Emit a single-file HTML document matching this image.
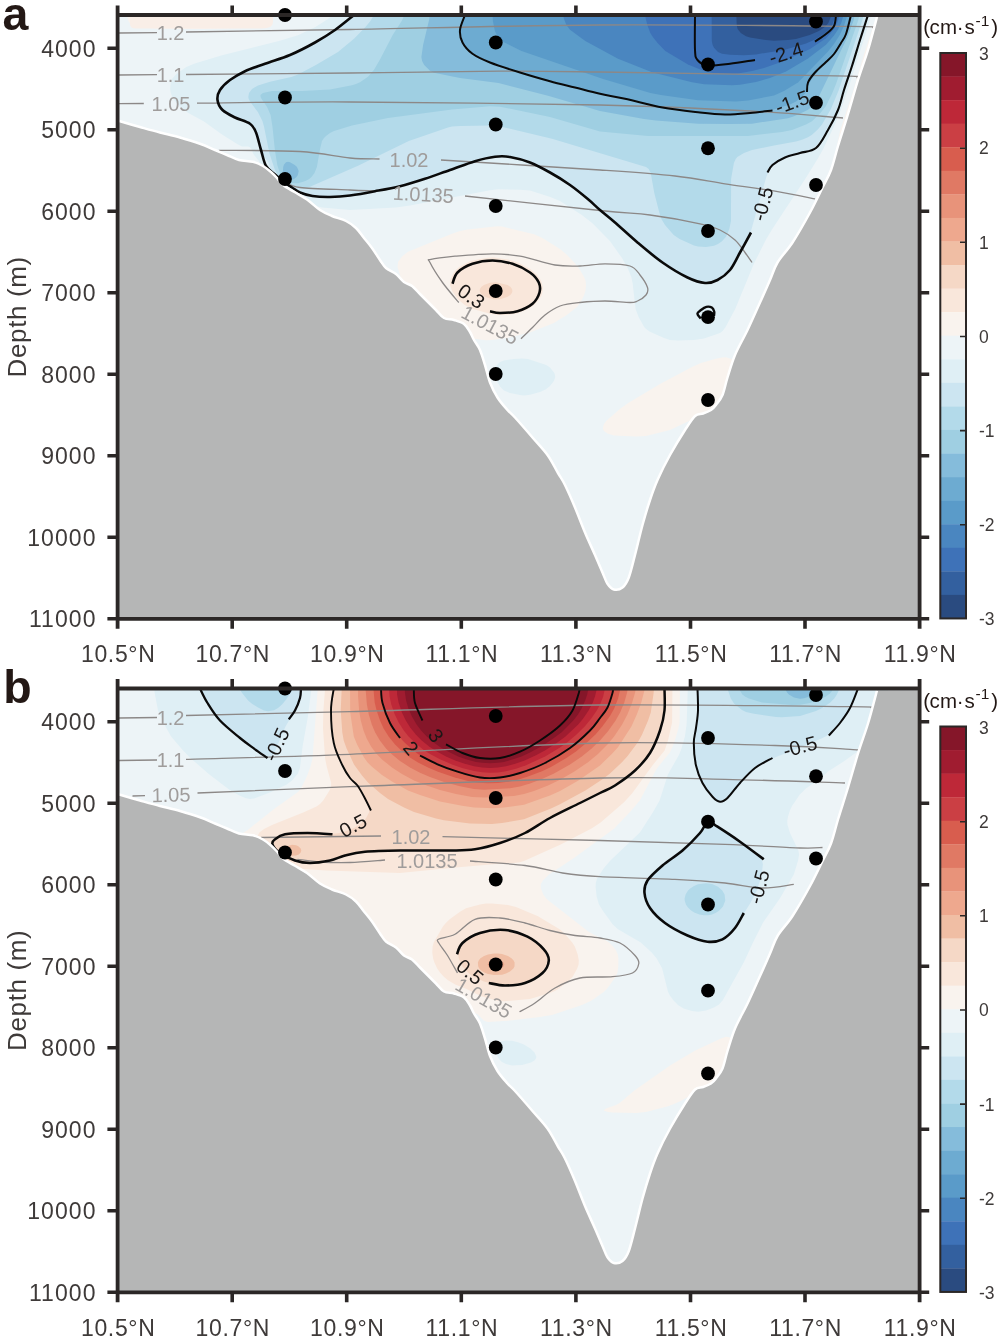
<!DOCTYPE html>
<html lang="en"><head><meta charset="utf-8"><title>Figure</title>
<style>html,body{margin:0;padding:0;background:#fff}svg{display:block}text{font-family:'Liberation Sans', Arial, Helvetica, sans-serif}</style></head><body>
<svg width="1000" height="1342" viewBox="0 0 1000 1342">
<defs><clipPath id="plotclip"><rect x="117.6" y="15.0" width="802.0" height="603.8"/></clipPath></defs>
<rect width="1000" height="1342" fill="#fff"/>
<g transform="translate(0,0)">
<g clip-path="url(#plotclip)">
<rect x="117.6" y="15.0" width="802.0" height="603.8" fill="#EDF4F7"/>
<path d="M128.0 9.0L274.4 9.0L272.9 17.0L271.1 21.0L266.0 24.8L260.4 27.0L244.0 28.1L200.0 29.0L156.0 28.5L142.0 27.6L136.0 26.5L132.0 24.8L129.8 23.0L128.4 21.0L127.3 17.0L126.5 9.0L128.0 9.0ZM880.0 9.7L880.4 9.0L924.0 9.0L924.0 213.9L922.0 211.6L913.8 199.0L909.9 195.0L904.0 191.1L896.0 188.7L878.0 186.5L870.0 184.8L860.0 181.6L854.0 178.6L849.6 175.0L845.1 169.0L841.1 161.0L838.4 153.0L837.7 149.0L837.6 143.0L840.0 131.0L853.2 91.0L864.0 54.3L876.0 17.8L880.0 9.7ZM220.0 179.0L230.0 179.3L240.0 181.2L263.8 191.0L270.0 194.6L281.9 205.0L288.4 213.0L291.8 219.0L293.8 225.0L293.7 229.0L292.7 231.0L290.6 233.0L288.0 234.3L280.0 236.3L268.0 237.2L256.0 236.5L242.0 233.5L230.0 229.5L220.3 225.0L210.8 219.0L203.8 213.0L197.6 205.0L195.1 199.0L194.8 193.0L196.0 189.1L197.3 187.0L202.1 183.0L210.0 180.1L220.0 179.0ZM490.0 227.0L498.0 226.3L502.0 226.6L534.0 234.3L542.0 237.8L560.0 248.9L566.0 253.9L574.8 263.0L579.4 269.0L584.1 277.0L585.6 281.0L586.0 285.0L585.4 291.0L584.0 295.5L580.1 303.0L577.1 307.0L566.8 315.0L553.9 323.0L530.0 332.4L508.0 337.7L492.0 340.0L486.0 340.3L476.0 338.9L472.0 339.0L458.0 342.4L452.0 343.2L446.0 342.8L440.3 341.0L436.0 338.5L432.0 334.9L427.3 329.0L423.7 323.0L415.4 305.0L400.6 277.0L397.5 267.0L398.0 262.0L402.0 256.5L408.0 251.8L452.0 233.8L460.0 231.0L466.0 229.7L490.0 227.0ZM716.0 358.8L722.0 357.5L726.0 357.2L732.0 359.2L736.0 361.8L739.3 365.0L742.0 369.0L744.2 375.0L744.9 379.0L744.9 385.0L742.7 395.0L740.9 399.0L738.0 403.6L735.0 407.0L730.0 411.1L724.0 414.1L718.0 415.8L712.0 416.1L704.0 415.2L700.0 415.7L670.0 429.9L646.0 435.9L636.0 436.5L614.0 435.5L608.0 433.8L603.9 431.0L603.0 429.0L603.0 427.0L604.0 424.1L606.2 421.0L619.9 409.0L628.2 403.0L660.0 383.9L692.0 367.0L700.9 363.0L716.0 358.8Z" fill="#F9F3EE" fill-rule="evenodd"/>
<path d="M900.0 9.8L900.8 9.0L924.0 9.0L924.0 170.5L884.0 157.8L872.0 152.5L866.0 148.3L861.1 143.0L857.7 137.0L856.0 131.0L855.7 121.0L858.0 107.0L869.4 63.0L876.0 42.9L882.0 27.9L886.0 21.2L890.0 17.0L900.0 9.8ZM480.0 258.9L488.0 257.7L494.0 257.5L508.0 259.5L518.0 262.6L530.2 269.0L537.2 275.0L540.1 279.0L541.9 283.0L542.7 287.0L542.7 291.0L541.6 295.0L539.4 299.0L534.2 305.0L528.0 309.1L518.0 313.2L508.0 314.8L498.0 315.0L490.0 313.8L472.0 308.7L464.7 305.0L457.6 299.0L452.1 291.0L449.9 285.0L450.5 279.0L454.0 272.1L456.8 269.0L460.0 266.5L470.0 261.3L480.0 258.9Z" fill="#F9E7DB" fill-rule="evenodd"/>
<path d="M924.0 22.9L924.0 137.0L914.0 135.0L902.0 131.4L894.0 128.0L888.0 124.1L883.0 119.0L880.0 113.8L878.0 107.0L877.4 99.0L878.4 85.0L881.9 67.0L886.0 54.3L892.0 42.0L897.5 35.0L904.0 30.0L914.0 25.5L924.0 22.9ZM490.0 282.8L496.0 282.2L507.6 285.0L510.6 287.0L512.0 289.0L512.4 291.0L511.9 293.0L510.3 295.0L507.2 297.0L500.0 299.2L494.0 299.5L485.5 297.0L482.2 295.0L480.5 293.0L479.7 291.0L479.9 289.0L481.2 287.0L483.9 285.0L490.0 282.8Z" fill="#F5D8C6" fill-rule="evenodd"/>
<path d="M336.0 9.0L872.7 9.0L868.4 25.0L848.8 87.0L840.4 111.0L834.6 125.0L823.2 149.0L818.0 158.2L806.0 177.7L772.0 229.5L766.0 239.6L754.2 263.0L735.2 309.0L725.6 327.0L722.7 331.0L720.0 333.0L704.0 338.4L694.0 340.0L678.0 340.5L670.0 339.9L664.0 338.1L650.0 331.7L646.1 329.0L644.2 327.0L638.6 317.0L635.6 309.0L632.6 283.0L631.3 277.0L628.1 269.0L622.0 258.1L609.9 241.0L592.2 223.0L581.8 215.0L560.0 200.9L550.3 197.0L530.0 190.6L520.0 189.8L498.0 189.3L490.0 190.3L410.0 205.5L396.0 207.5L350.0 210.1L322.0 207.4L312.0 205.3L304.0 202.1L295.9 197.0L284.0 191.0L280.0 188.0L272.0 180.1L264.0 174.0L261.3 171.0L260.3 169.0L259.7 163.0L258.9 161.0L254.1 155.0L252.9 153.0L251.5 149.0L250.0 147.3L248.0 146.5L242.0 146.4L238.0 144.5L222.0 134.4L204.0 121.4L188.0 112.7L182.9 109.0L176.4 103.0L172.3 97.0L170.8 93.0L170.1 89.0L170.7 83.0L172.0 79.0L176.0 74.2L186.3 67.0L194.0 63.8L222.0 55.3L278.9 41.0L298.0 35.2L315.4 27.0L328.0 19.0L333.0 15.0L334.4 13.0L335.4 9.0L336.0 9.0ZM514.0 359.0L522.0 358.4L528.0 358.9L546.2 365.0L550.0 367.6L554.4 373.0L555.3 377.0L553.9 381.0L550.0 386.1L546.0 389.3L540.0 391.9L530.0 394.7L524.0 395.4L520.0 395.1L510.0 392.9L504.0 390.6L500.4 387.0L495.6 379.0L493.7 375.0L493.7 371.0L497.1 365.0L500.0 362.0L504.0 360.4L514.0 359.0Z" fill="#DFEFF5" fill-rule="evenodd"/>
<path d="M356.0 9.0L868.9 9.0L864.5 25.0L838.0 105.9L834.0 115.7L826.0 131.4L818.0 143.7L814.0 147.5L808.0 150.6L784.0 158.6L776.2 163.0L771.6 167.0L768.9 171.0L766.3 177.0L751.0 231.0L747.3 239.0L738.0 255.7L731.2 267.0L728.0 270.9L724.0 274.6L718.0 278.8L714.0 280.6L706.0 282.0L699.0 281.0L688.0 277.4L678.0 272.0L662.0 262.0L638.0 242.6L588.0 198.7L574.0 187.6L566.0 182.1L550.0 172.4L534.0 164.4L526.0 161.3L512.0 157.6L506.0 156.9L496.0 156.9L480.0 159.9L472.0 162.1L423.1 179.0L403.1 185.0L374.7 191.0L350.0 195.1L330.0 196.4L312.0 195.5L300.0 192.6L288.0 188.3L282.2 185.0L271.1 171.0L268.7 163.0L263.2 155.0L256.0 134.0L252.0 127.3L246.0 122.3L234.9 117.0L228.1 113.0L224.0 109.9L221.5 107.0L219.6 103.0L218.8 99.0L219.0 95.0L220.2 91.0L223.0 87.0L229.2 81.0L242.2 73.0L252.0 68.7L290.0 55.0L310.0 45.3L320.0 39.7L336.0 29.4L346.8 21.0L353.0 15.0L354.2 13.0L355.2 9.0L356.0 9.0Z" fill="#CCE5F1" fill-rule="evenodd"/>
<path d="M376.0 9.0L865.3 9.0L862.0 21.2L838.4 91.0L830.9 109.0L822.0 124.4L818.0 129.2L812.0 134.7L808.0 137.2L802.0 139.8L796.0 141.6L774.0 145.4L752.0 150.0L744.0 153.0L737.3 157.0L735.7 159.0L733.9 163.0L731.1 179.0L731.0 221.0L729.3 229.0L726.0 236.7L722.0 241.3L718.0 244.1L714.0 245.8L706.0 247.0L698.0 246.4L694.0 245.5L679.6 239.0L673.7 235.0L665.0 225.0L661.4 219.0L658.9 211.0L654.3 193.0L650.7 173.0L648.7 169.0L646.0 167.0L552.0 138.8L498.0 126.0L490.0 125.4L460.0 126.1L452.0 126.6L448.0 127.4L408.8 141.0L358.0 165.7L310.0 186.7L304.0 188.2L300.0 187.9L288.0 185.4L284.0 183.6L280.0 179.0L274.6 169.0L269.3 153.0L264.0 126.6L262.4 121.0L258.0 112.3L251.1 103.0L248.7 99.0L248.3 97.0L249.0 93.0L252.0 88.9L258.0 85.4L270.0 81.8L291.3 77.0L298.0 74.6L315.9 65.0L338.0 52.0L354.0 38.7L365.5 27.0L370.4 21.0L372.8 17.0L374.0 13.0L374.4 9.0L376.0 9.0Z" fill="#B3DAEA" fill-rule="evenodd"/>
<path d="M406.0 9.0L861.0 9.0L858.0 21.0L836.0 83.9L832.0 93.8L826.0 105.9L820.0 113.6L812.0 121.3L806.0 124.5L792.0 130.0L782.0 131.9L748.0 135.9L648.0 136.0L600.0 131.6L550.0 117.1L500.0 106.7L490.0 106.3L452.0 109.5L388.0 118.1L352.0 125.5L334.0 131.0L330.0 133.1L326.0 136.0L324.0 137.9L322.0 141.0L320.0 149.2L316.9 167.0L314.5 173.0L311.5 177.0L309.2 179.0L305.4 181.0L298.0 183.2L288.0 183.1L284.0 181.3L281.1 177.0L277.3 165.0L275.0 151.0L272.5 127.0L270.6 115.0L267.1 107.0L261.6 99.0L260.6 97.0L260.5 95.0L262.9 93.0L272.0 91.0L302.0 91.0L330.0 89.6L352.0 85.3L356.0 84.1L360.0 82.2L368.0 76.8L374.0 69.7L380.0 59.6L392.7 35.0L402.0 20.6L404.3 15.0L404.9 9.0L406.0 9.0Z" fill="#9FCFE2" fill-rule="evenodd"/>
<path d="M432.0 9.0L856.0 9.0L853.4 21.0L847.5 37.0L819.6 95.0L814.9 103.0L811.4 107.0L808.0 109.7L804.0 111.8L794.0 116.2L788.0 118.2L752.0 123.7L730.0 124.1L698.0 123.7L656.0 120.4L644.0 118.9L600.0 110.9L548.0 95.7L498.5 83.0L460.0 78.0L434.0 72.7L430.0 70.8L424.2 65.0L422.1 61.0L421.4 57.0L423.1 45.0L429.3 19.0L430.2 9.0L432.0 9.0ZM286.0 162.3L288.0 161.8L290.0 162.3L294.8 165.0L297.0 167.0L298.7 171.0L297.8 175.0L296.5 177.0L294.0 179.0L290.0 180.5L288.0 180.7L286.0 180.2L284.5 179.0L283.4 177.0L282.8 173.0L283.2 167.0L284.0 164.5L286.0 162.3Z" fill="#85BCDB" fill-rule="evenodd"/>
<path d="M466.0 9.0L851.7 9.0L850.4 17.0L847.4 27.0L844.0 35.7L838.0 46.5L832.0 55.7L814.0 75.5L809.4 83.0L806.0 92.1L803.8 95.0L799.4 99.0L796.0 101.5L790.0 104.5L772.0 110.1L750.0 112.9L726.0 114.1L698.0 112.3L668.0 108.3L656.0 106.2L598.0 93.3L550.0 81.1L518.0 71.7L490.0 62.2L479.1 57.0L472.5 53.0L466.5 47.0L462.5 41.0L461.1 35.0L460.9 29.0L464.4 15.0L464.7 9.0L466.0 9.0Z" fill="#6DABD1" fill-rule="evenodd"/>
<path d="M494.0 9.0L848.0 9.0L846.8 17.0L844.0 25.8L840.0 34.5L834.0 43.9L828.0 51.6L798.0 82.5L784.0 90.9L774.0 95.6L748.0 100.4L736.0 101.6L698.0 100.3L660.9 95.0L650.4 93.0L603.1 79.0L521.5 51.0L504.0 42.3L500.0 39.4L497.9 37.0L494.9 31.0L492.9 21.0L492.3 9.0L494.0 9.0Z" fill="#5A9BC9" fill-rule="evenodd"/>
<path d="M564.0 9.0L844.5 9.0L843.6 15.0L841.2 23.0L838.0 29.4L834.0 35.5L826.0 44.7L808.0 58.5L786.0 71.6L770.0 77.9L756.0 82.1L740.0 84.7L732.0 85.2L704.0 84.3L692.0 82.2L652.0 72.2L618.0 58.7L585.3 41.0L570.0 29.8L566.4 25.0L564.0 19.0L563.1 15.0L562.6 9.0L564.0 9.0Z" fill="#4A86C0" fill-rule="evenodd"/>
<path d="M646.0 9.0L840.4 9.0L839.5 15.0L837.9 21.0L835.0 27.0L832.0 31.8L826.0 38.3L810.0 48.9L784.0 61.0L764.0 68.0L752.1 71.0L738.0 73.4L732.0 73.8L714.0 73.2L704.0 71.0L688.0 64.6L665.3 51.0L657.6 43.0L652.8 37.0L650.3 33.0L647.3 25.0L645.4 17.0L644.6 9.0L646.0 9.0Z" fill="#3E72B8" fill-rule="evenodd"/>
<path d="M712.0 9.0L836.1 9.0L834.4 19.0L832.1 25.0L830.0 28.4L824.0 34.1L814.0 39.9L806.0 43.4L784.0 49.9L756.0 54.4L744.0 55.3L730.0 54.8L722.0 53.8L718.0 51.9L714.0 47.7L712.6 45.0L711.8 41.0L711.6 9.0L712.0 9.0Z" fill="#33609F" fill-rule="evenodd"/>
<path d="M738.0 9.0L831.7 9.0L830.7 17.0L828.4 23.0L824.8 27.0L818.9 31.0L809.7 35.0L796.0 39.0L788.0 40.0L774.0 40.7L766.0 40.1L750.0 37.6L746.0 36.2L740.8 33.0L737.6 29.0L736.7 25.0L736.1 9.0L738.0 9.0Z" fill="#2A4B80" fill-rule="evenodd"/>
<path d="M130 15V24Q130 28.5 136 28.5H262Q273 28.5 273 22V15Z" fill="#F9EEE7"/>
<path d="M119.0 33.0 L157.0 32.7" fill="none" stroke="#8c8887" stroke-width="1.3"/>
<path d="M186.0 32.0C213.3 31.6 281.0 30.7 350.0 29.5C419.0 28.3 516.7 25.5 600.0 25.0C683.3 24.5 804.5 25.9 850.0 26.3C895.5 26.7 869.2 27.4 873.0 27.6" fill="none" stroke="#8c8887" stroke-width="1.3"/>
<path d="M119.0 75.0 L157.0 74.7" fill="none" stroke="#8c8887" stroke-width="1.3"/>
<path d="M186.0 74.5C213.3 74.2 297.7 73.5 350.0 73.0C402.3 72.5 458.3 71.4 500.0 71.2C541.7 71.1 541.7 71.2 600.0 72.0C658.3 72.8 807.2 75.3 850.0 76.2C892.8 77.2 855.8 77.4 857.0 77.6" fill="none" stroke="#8c8887" stroke-width="1.3"/>
<path d="M119.0 103.6 L143.8 103.5" fill="none" stroke="#8c8887" stroke-width="1.3"/>
<path d="M197.0 103.2C222.5 103.0 282.8 101.7 350.0 102.0C417.2 102.3 533.3 103.5 600.0 105.0C666.7 106.5 709.5 108.8 750.0 111.0C790.5 113.2 827.5 116.8 843.0 118.0" fill="none" stroke="#8c8887" stroke-width="1.3"/>
<path d="M218.8 150.3C232.3 150.5 278.1 150.2 300.0 151.5C321.9 152.8 336.8 156.8 350.0 158.0C363.2 159.2 374.6 158.8 379.5 159.0" fill="none" stroke="#8c8887" stroke-width="1.3"/>
<path d="M441.0 160.0C467.5 161.7 561.0 167.3 600.0 170.0C639.0 172.7 654.2 173.7 675.0 176.0C695.8 178.3 708.3 181.2 725.0 183.8C741.7 186.3 760.0 188.8 775.0 191.2C790.0 193.8 808.3 197.5 815.0 198.8" fill="none" stroke="#8c8887" stroke-width="1.3"/>
<path d="M285.0 182.0C287.5 182.9 289.2 186.2 300.0 187.5C310.8 188.8 337.5 189.4 350.0 190.0C362.5 190.6 370.8 190.8 375.0 191.0" fill="none" stroke="#8c8887" stroke-width="1.3"/>
<path d="M465.0 196.0C487.5 198.4 569.2 207.3 600.0 210.5C630.8 213.7 633.3 212.8 650.0 215.0C666.7 217.2 688.3 221.2 700.0 223.8C711.7 226.2 714.2 227.3 720.0 230.0C725.8 232.7 730.8 236.2 735.0 240.0C739.2 243.8 742.2 248.8 745.0 252.5C747.8 256.2 750.8 260.8 752.0 262.5" fill="none" stroke="#8c8887" stroke-width="1.3"/>
<path d="M458.8 302.5C456.0 299.2 447.3 289.2 442.5 282.5C437.7 275.8 431.9 266.4 430.0 262.5C428.1 258.6 426.8 260.3 431.0 259.3C435.2 258.3 444.8 257.2 455.0 256.2C465.2 255.3 481.7 253.8 492.5 253.8C503.3 253.8 509.6 254.4 520.0 256.2C530.4 258.1 545.0 263.4 555.0 265.0C565.0 266.6 571.7 266.2 580.0 266.0C588.3 265.8 596.7 263.8 605.0 263.8C613.3 263.8 624.2 264.1 630.0 266.0C635.8 267.9 637.1 271.4 640.0 275.0C642.9 278.6 646.5 284.2 647.5 287.5C648.5 290.8 647.7 292.8 646.0 295.0C644.3 297.2 640.2 299.8 637.5 301.0C634.8 302.2 635.4 302.5 630.0 302.5C624.6 302.5 613.3 301.0 605.0 301.0C596.7 301.0 587.5 301.7 580.0 302.5C572.5 303.3 565.8 303.9 560.0 306.0C554.2 308.1 549.6 311.4 545.0 315.0C540.4 318.6 536.5 323.5 532.5 327.5C528.5 331.5 522.9 336.9 521.0 338.8" fill="none" stroke="#8c8887" stroke-width="1.3"/>
<path d="M354.0 15.0C350.8 17.5 341.5 25.4 335.0 30.0C328.5 34.6 322.5 38.3 315.0 42.5C307.5 46.7 298.3 51.5 290.0 55.0C281.7 58.5 272.5 61.0 265.0 63.8C257.5 66.5 250.8 68.5 245.0 71.2C239.2 74.0 234.2 76.9 230.0 80.0C225.8 83.1 222.1 86.7 220.0 90.0C217.9 93.3 217.1 96.7 217.5 100.0C217.9 103.3 219.6 107.1 222.5 110.0C225.4 112.9 230.4 115.2 235.0 117.5C239.6 119.8 246.5 121.2 250.0 123.8C253.5 126.2 254.2 128.1 256.0 132.5C257.8 136.9 259.3 144.4 261.0 150.0C262.7 155.6 263.7 161.9 266.0 166.0C268.3 170.1 271.8 171.7 275.0 174.5C278.2 177.3 282.2 180.8 285.0 183.0C287.8 185.2 289.5 185.9 292.0 187.5C294.5 189.1 296.6 191.1 300.0 192.5C303.4 193.9 307.5 195.2 312.5 196.0C317.5 196.8 323.8 197.1 330.0 197.0C336.2 196.9 342.5 196.5 350.0 195.5C357.5 194.5 366.7 192.8 375.0 191.2C383.3 189.7 391.7 188.3 400.0 186.2C408.3 184.2 416.7 181.5 425.0 178.8C433.3 176.0 441.7 172.9 450.0 170.0C458.3 167.1 467.5 163.5 475.0 161.2C482.5 159.0 489.2 157.5 495.0 156.8C500.8 156.0 504.2 156.0 510.0 157.0C515.8 158.0 523.3 159.9 530.0 162.5C536.7 165.1 543.3 168.8 550.0 172.5C556.7 176.2 563.8 180.6 570.0 185.0C576.2 189.4 582.5 194.6 587.5 198.8C592.5 202.9 595.4 206.0 600.0 210.0C604.6 214.0 608.8 217.1 615.0 222.5C621.2 227.9 629.6 235.8 637.5 242.5C645.4 249.2 654.2 256.7 662.5 262.5C670.8 268.3 680.4 274.1 687.5 277.5C694.6 280.9 700.0 282.6 705.0 283.0C710.0 283.4 713.3 282.2 717.5 280.0C721.7 277.8 726.2 274.6 730.0 270.0C733.8 265.4 736.5 258.8 740.0 252.5C743.5 246.2 749.2 235.8 751.0 232.5" fill="none" stroke="#0a0a0a" stroke-width="2.6" stroke-linecap="butt"/>
<path d="M767.5 172.5C768.3 171.2 769.6 167.5 772.5 165.0C775.4 162.5 780.4 159.5 785.0 157.5C789.6 155.5 794.8 154.6 800.0 153.0C805.2 151.4 811.3 151.8 816.0 148.0C820.7 144.2 824.3 136.3 828.0 130.0C831.7 123.7 835.3 116.7 838.0 110.0C840.7 103.3 841.7 97.3 844.0 90.0C846.3 82.7 849.3 74.3 852.0 66.0C854.7 57.7 857.3 48.5 860.0 40.0C862.7 31.5 866.7 19.2 868.0 15.0" fill="none" stroke="#0a0a0a" stroke-width="2.1" stroke-linecap="butt"/>
<path d="M465.0 15.0C464.2 17.5 460.4 25.4 460.0 30.0C459.6 34.6 460.4 38.5 462.5 42.5C464.6 46.5 467.9 50.4 472.5 53.8C477.1 57.1 482.1 59.4 490.0 62.5C497.9 65.6 510.0 69.4 520.0 72.5C530.0 75.6 540.8 78.8 550.0 81.2C559.2 83.8 566.7 85.4 575.0 87.5C583.3 89.6 591.7 91.9 600.0 93.8C608.3 95.6 614.6 96.5 625.0 98.8C635.4 101.0 650.0 105.2 662.5 107.5C675.0 109.8 689.6 111.3 700.0 112.5C710.4 113.7 716.7 114.4 725.0 114.5C733.3 114.6 742.1 113.7 750.0 113.0C757.9 112.3 768.8 110.9 772.5 110.5" fill="none" stroke="#0a0a0a" stroke-width="2.0" stroke-linecap="butt"/>
<path d="M807.0 92.0C807.2 90.4 806.7 85.8 808.0 82.5C809.3 79.2 812.0 75.9 815.0 72.5C818.0 69.1 822.8 65.1 826.0 62.0C829.2 58.9 831.5 57.2 834.0 54.0C836.5 50.8 839.0 46.3 841.0 43.0C843.0 39.7 844.3 38.7 846.0 34.0C847.7 29.3 850.2 18.2 851.0 15.0" fill="none" stroke="#0a0a0a" stroke-width="2.0" stroke-linecap="butt"/>
<path d="M695.0 15.0C695.0 20.8 694.6 42.5 695.0 50.0C695.4 57.5 695.4 57.4 697.5 60.0C699.6 62.6 702.1 64.9 707.5 65.5C712.9 66.1 722.1 64.7 730.0 63.8C737.9 62.8 750.8 60.6 755.0 60.0" fill="none" stroke="#0a0a0a" stroke-width="2.0" stroke-linecap="butt"/>
<path d="M815.0 41.6C816.8 40.3 822.8 36.6 826.0 34.0C829.2 31.4 832.3 29.2 834.0 26.0C835.7 22.8 835.7 16.8 836.0 15.0" fill="none" stroke="#0a0a0a" stroke-width="2.0" stroke-linecap="butt"/>
<path d="M452.5 283.8C453.3 281.9 454.2 275.8 457.5 272.5C460.8 269.2 466.7 265.8 472.5 263.8C478.3 261.8 485.8 260.5 492.5 260.5C499.2 260.5 506.2 261.8 512.5 263.8C518.8 265.8 525.6 269.4 530.0 272.5C534.4 275.6 537.2 279.2 538.8 282.5C540.3 285.8 540.5 289.0 539.5 292.5C538.5 296.0 536.2 300.6 532.5 303.8C528.8 306.9 522.9 309.7 517.5 311.2C512.1 312.8 504.6 313.0 500.0 313.0C495.4 313.0 491.7 311.5 490.0 311.2" fill="none" stroke="#0a0a0a" stroke-width="2.6" stroke-linecap="butt"/>
<path d="M700.8 318.5C700.2 317.7 697.4 315.2 697.4 313.8C697.4 312.4 699.5 311.2 701.0 310.0C702.5 308.8 704.6 307.2 706.4 306.8C708.2 306.4 710.5 306.8 711.8 307.6C713.1 308.4 713.8 310.1 714.2 311.5C714.6 312.9 714.0 315.2 714.0 316.0" fill="none" stroke="#0a0a0a" stroke-width="2.4" stroke-linecap="butt"/>
<path d="M117.6 623.8 L117.6 120.5C121.3 121.6 132.9 125.0 140.0 127.0C147.1 129.0 153.3 130.8 160.0 132.5C166.7 134.2 173.3 135.6 180.0 137.5C186.7 139.4 194.2 141.7 200.0 143.8C205.8 145.8 210.5 148.1 215.0 150.0C219.5 151.9 223.0 153.3 227.0 155.0C231.0 156.7 234.7 158.9 239.0 160.0C243.3 161.1 249.0 160.8 253.0 161.8C257.0 162.8 260.0 164.3 263.0 166.0C266.0 167.7 268.7 170.0 271.0 172.0C273.3 174.0 275.0 175.8 277.0 178.0C279.0 180.2 280.0 182.6 283.0 185.0C286.0 187.4 291.0 189.9 295.0 192.3C299.0 194.7 302.8 196.6 307.0 199.5C311.2 202.4 315.8 207.2 320.0 210.0C324.2 212.8 327.7 214.2 332.0 216.0C336.3 217.8 342.0 219.0 346.0 221.0C350.0 223.0 353.0 225.2 356.0 228.0C359.0 230.8 361.3 234.7 364.0 238.0C366.7 241.3 369.3 244.3 372.0 248.0C374.7 251.7 377.7 256.7 380.0 260.0C382.3 263.3 383.3 265.7 386.0 268.0C388.7 270.3 393.0 271.7 396.0 274.0C399.0 276.3 401.3 280.0 404.0 282.0C406.7 284.0 409.3 284.0 412.0 286.0C414.7 288.0 417.3 291.3 420.0 294.0C422.7 296.7 425.3 299.3 428.0 302.0C430.7 304.7 433.3 307.3 436.0 310.0C438.7 312.7 441.0 316.3 444.0 318.0C447.0 319.7 450.7 319.0 454.0 320.0C457.3 321.0 461.3 322.0 464.0 324.0C466.7 326.0 468.3 329.3 470.0 332.0C471.7 334.7 472.3 337.0 474.0 340.0C475.7 343.0 478.2 345.8 480.0 350.0C481.8 354.2 483.3 359.6 485.0 365.0C486.7 370.4 487.9 377.1 490.0 382.5C492.1 387.9 494.6 392.9 497.5 397.5C500.4 402.1 504.6 406.7 507.5 410.0C510.4 413.3 510.8 412.9 515.0 417.5C519.2 422.1 527.1 431.2 532.5 437.5C537.9 443.8 543.2 449.1 547.5 455.0C551.8 460.9 555.1 468.0 558.0 473.0C560.9 478.0 562.2 479.2 565.0 485.0C567.8 490.8 571.7 499.6 575.0 507.5C578.3 515.4 581.7 524.6 585.0 532.5C588.3 540.4 592.1 548.3 595.0 555.0C597.9 561.7 600.4 567.7 602.5 572.5C604.6 577.3 605.6 580.9 607.5 583.8C609.4 586.6 611.2 588.9 613.8 589.5C616.2 590.1 620.0 589.5 622.5 587.5C625.0 585.5 626.7 582.9 628.8 577.5C630.8 572.1 632.7 563.8 635.0 555.0C637.3 546.2 640.0 534.2 642.5 525.0C645.0 515.8 647.5 507.5 650.0 500.0C652.5 492.5 654.2 487.5 657.5 480.0C660.8 472.5 665.4 463.3 670.0 455.0C674.6 446.7 680.8 436.5 685.0 430.0C689.2 423.5 692.0 418.8 695.0 416.0C698.0 413.2 700.3 414.5 703.0 413.5C705.7 412.5 708.8 411.4 711.0 410.0C713.2 408.6 714.1 407.5 716.0 405.0C717.9 402.5 720.6 399.6 722.5 395.0C724.4 390.4 725.4 384.2 727.5 377.5C729.6 370.8 731.7 362.9 735.0 355.0C738.3 347.1 743.3 338.8 747.5 330.0C751.7 321.2 756.2 310.8 760.0 302.5C763.8 294.2 767.1 286.7 770.0 280.0C772.9 273.3 773.8 268.8 777.5 262.5C781.2 256.2 787.1 250.8 792.5 242.5C797.9 234.2 805.0 221.7 810.0 212.5C815.0 203.3 819.0 194.6 822.5 187.5C826.0 180.4 828.4 176.9 831.0 170.0C833.6 163.1 835.2 155.3 838.0 146.0C840.8 136.7 844.7 125.0 848.0 114.0C851.3 103.0 854.7 90.7 858.0 80.0C861.3 69.3 864.8 60.5 868.0 50.0C871.2 39.5 875.5 22.5 877.0 17.0 L922.6 17 L922.6 623.8Z" fill="#B5B6B6"/>
<path d="M117.6 120.5C121.3 121.6 132.9 125.0 140.0 127.0C147.1 129.0 153.3 130.8 160.0 132.5C166.7 134.2 173.3 135.6 180.0 137.5C186.7 139.4 194.2 141.7 200.0 143.8C205.8 145.8 210.5 148.1 215.0 150.0C219.5 151.9 223.0 153.3 227.0 155.0C231.0 156.7 234.7 158.9 239.0 160.0C243.3 161.1 249.0 160.8 253.0 161.8C257.0 162.8 260.0 164.3 263.0 166.0C266.0 167.7 268.7 170.0 271.0 172.0C273.3 174.0 275.0 175.8 277.0 178.0C279.0 180.2 280.0 182.6 283.0 185.0C286.0 187.4 291.0 189.9 295.0 192.3C299.0 194.7 302.8 196.6 307.0 199.5C311.2 202.4 315.8 207.2 320.0 210.0C324.2 212.8 327.7 214.2 332.0 216.0C336.3 217.8 342.0 219.0 346.0 221.0C350.0 223.0 353.0 225.2 356.0 228.0C359.0 230.8 361.3 234.7 364.0 238.0C366.7 241.3 369.3 244.3 372.0 248.0C374.7 251.7 377.7 256.7 380.0 260.0C382.3 263.3 383.3 265.7 386.0 268.0C388.7 270.3 393.0 271.7 396.0 274.0C399.0 276.3 401.3 280.0 404.0 282.0C406.7 284.0 409.3 284.0 412.0 286.0C414.7 288.0 417.3 291.3 420.0 294.0C422.7 296.7 425.3 299.3 428.0 302.0C430.7 304.7 433.3 307.3 436.0 310.0C438.7 312.7 441.0 316.3 444.0 318.0C447.0 319.7 450.7 319.0 454.0 320.0C457.3 321.0 461.3 322.0 464.0 324.0C466.7 326.0 468.3 329.3 470.0 332.0C471.7 334.7 472.3 337.0 474.0 340.0C475.7 343.0 478.2 345.8 480.0 350.0C481.8 354.2 483.3 359.6 485.0 365.0C486.7 370.4 487.9 377.1 490.0 382.5C492.1 387.9 494.6 392.9 497.5 397.5C500.4 402.1 504.6 406.7 507.5 410.0C510.4 413.3 510.8 412.9 515.0 417.5C519.2 422.1 527.1 431.2 532.5 437.5C537.9 443.8 543.2 449.1 547.5 455.0C551.8 460.9 555.1 468.0 558.0 473.0C560.9 478.0 562.2 479.2 565.0 485.0C567.8 490.8 571.7 499.6 575.0 507.5C578.3 515.4 581.7 524.6 585.0 532.5C588.3 540.4 592.1 548.3 595.0 555.0C597.9 561.7 600.4 567.7 602.5 572.5C604.6 577.3 605.6 580.9 607.5 583.8C609.4 586.6 611.2 588.9 613.8 589.5C616.2 590.1 620.0 589.5 622.5 587.5C625.0 585.5 626.7 582.9 628.8 577.5C630.8 572.1 632.7 563.8 635.0 555.0C637.3 546.2 640.0 534.2 642.5 525.0C645.0 515.8 647.5 507.5 650.0 500.0C652.5 492.5 654.2 487.5 657.5 480.0C660.8 472.5 665.4 463.3 670.0 455.0C674.6 446.7 680.8 436.5 685.0 430.0C689.2 423.5 692.0 418.8 695.0 416.0C698.0 413.2 700.3 414.5 703.0 413.5C705.7 412.5 708.8 411.4 711.0 410.0C713.2 408.6 714.1 407.5 716.0 405.0C717.9 402.5 720.6 399.6 722.5 395.0C724.4 390.4 725.4 384.2 727.5 377.5C729.6 370.8 731.7 362.9 735.0 355.0C738.3 347.1 743.3 338.8 747.5 330.0C751.7 321.2 756.2 310.8 760.0 302.5C763.8 294.2 767.1 286.7 770.0 280.0C772.9 273.3 773.8 268.8 777.5 262.5C781.2 256.2 787.1 250.8 792.5 242.5C797.9 234.2 805.0 221.7 810.0 212.5C815.0 203.3 819.0 194.6 822.5 187.5C826.0 180.4 828.4 176.9 831.0 170.0C833.6 163.1 835.2 155.3 838.0 146.0C840.8 136.7 844.7 125.0 848.0 114.0C851.3 103.0 854.7 90.7 858.0 80.0C861.3 69.3 864.8 60.5 868.0 50.0C871.2 39.5 875.5 22.5 877.0 17.0" fill="none" stroke="#ffffff" stroke-width="2.5"/>
</g>
<text x="170.6" y="33.3" transform="rotate(0 170.6 33.3)" font-size="20" fill="#9f9c9b" text-anchor="middle" dominant-baseline="central">1.2</text>
<text x="170.6" y="75.3" transform="rotate(0 170.6 75.3)" font-size="20" fill="#9f9c9b" text-anchor="middle" dominant-baseline="central">1.1</text>
<text x="171" y="103.8" transform="rotate(0 171 103.8)" font-size="20" fill="#9f9c9b" text-anchor="middle" dominant-baseline="central">1.05</text>
<text x="409" y="160.3" transform="rotate(0 409 160.3)" font-size="20" fill="#9f9c9b" text-anchor="middle" dominant-baseline="central">1.02</text>
<text x="423.3" y="194.4" transform="rotate(3 423.3 194.4)" font-size="20" fill="#9f9c9b" text-anchor="middle" dominant-baseline="central">1.0135</text>
<text x="490" y="325" transform="rotate(28 490 325)" font-size="20" fill="#9f9c9b" text-anchor="middle" dominant-baseline="central">1.0135</text>
<text x="471.3" y="296.3" transform="rotate(35 471.3 296.3)" font-size="20" fill="#1a1716" text-anchor="middle" dominant-baseline="central">0.3</text>
<text x="762.5" y="203.8" transform="rotate(-75 762.5 203.8)" font-size="20" fill="#1a1716" text-anchor="middle" dominant-baseline="central">-0.5</text>
<text x="786" y="53" transform="rotate(-17 786 53)" font-size="20" fill="#1a1716" text-anchor="middle" dominant-baseline="central">-2.4</text>
<text x="792" y="102" transform="rotate(-20 792 102)" font-size="20" fill="#1a1716" text-anchor="middle" dominant-baseline="central">-1.5</text>
<circle cx="285" cy="15" r="6.9" fill="#000"/>
<circle cx="285" cy="97.5" r="6.9" fill="#000"/>
<circle cx="285" cy="179" r="6.9" fill="#000"/>
<circle cx="495.75" cy="42.5" r="6.9" fill="#000"/>
<circle cx="495.75" cy="124.5" r="6.9" fill="#000"/>
<circle cx="495.75" cy="206" r="6.9" fill="#000"/>
<circle cx="495.75" cy="291" r="6.9" fill="#000"/>
<circle cx="495.75" cy="374" r="6.9" fill="#000"/>
<circle cx="708" cy="64.5" r="6.9" fill="#000"/>
<circle cx="708" cy="148.25" r="6.9" fill="#000"/>
<circle cx="708" cy="231" r="6.9" fill="#000"/>
<circle cx="708" cy="317.2" r="6.9" fill="#000"/>
<circle cx="708" cy="400" r="6.9" fill="#000"/>
<circle cx="816" cy="21.5" r="6.9" fill="#000"/>
<circle cx="816" cy="102.75" r="6.9" fill="#000"/>
<circle cx="816" cy="185" r="6.9" fill="#000"/>
<g stroke="#2b2726" stroke-width="3.8" fill="none">
<path d="M117.6 5.6V628.8M919.6 5.6V628.8M115.69999999999999 15.0H921.5M115.69999999999999 618.8H921.5"/>
<path d="M232.2 5.6V15.0M232.2 618.8V628.8M346.7 5.6V15.0M346.7 618.8V628.8M461.3 5.6V15.0M461.3 618.8V628.8M575.9 5.6V15.0M575.9 618.8V628.8M690.5 5.6V15.0M690.5 618.8V628.8M805.0 5.6V15.0M805.0 618.8V628.8M107.4 48.2H117.6M919.6 48.2H929.2M107.4 129.7H117.6M919.6 129.7H929.2M107.4 211.2H117.6M919.6 211.2H929.2M107.4 292.7H117.6M919.6 292.7H929.2M107.4 374.3H117.6M919.6 374.3H929.2M107.4 455.8H117.6M919.6 455.8H929.2M107.4 537.3H117.6M919.6 537.3H929.2M107.4 618.8H117.6M919.6 618.8H929.2" stroke-width="3.6"/>
</g>
<g font-size="23" fill="#3e3a39">
<text x="96.5" y="56.6" text-anchor="end" letter-spacing="1.05">4000</text>
<text x="96.5" y="138.1" text-anchor="end" letter-spacing="1.05">5000</text>
<text x="96.5" y="219.6" text-anchor="end" letter-spacing="1.05">6000</text>
<text x="96.5" y="301.1" text-anchor="end" letter-spacing="1.05">7000</text>
<text x="96.5" y="382.7" text-anchor="end" letter-spacing="1.05">8000</text>
<text x="96.5" y="464.2" text-anchor="end" letter-spacing="1.05">9000</text>
<text x="96.5" y="545.7" text-anchor="end" letter-spacing="1.05">10000</text>
<text x="96.5" y="627.2" text-anchor="end" letter-spacing="1.05">11000</text>
<text x="118.2" y="662.3" text-anchor="middle" letter-spacing="0.65">10.5°N</text>
<text x="232.8" y="662.3" text-anchor="middle" letter-spacing="0.65">10.7°N</text>
<text x="347.3" y="662.3" text-anchor="middle" letter-spacing="0.65">10.9°N</text>
<text x="461.9" y="662.3" text-anchor="middle" letter-spacing="0.65">11.1°N</text>
<text x="576.5" y="662.3" text-anchor="middle" letter-spacing="0.65">11.3°N</text>
<text x="691.1" y="662.3" text-anchor="middle" letter-spacing="0.65">11.5°N</text>
<text x="805.6" y="662.3" text-anchor="middle" letter-spacing="0.65">11.7°N</text>
<text x="920.2" y="662.3" text-anchor="middle" letter-spacing="0.65">11.9°N</text>
</g>
<text x="25.6" y="316.8" transform="rotate(-90 25.6 316.8)" font-size="26" fill="#3e3a39" text-anchor="middle" letter-spacing="0.65">Depth (m)</text>
<rect x="940.3" y="53.00" width="25.700000000000045" height="23.86" fill="#851629"/>
<rect x="940.3" y="76.56" width="25.700000000000045" height="23.86" fill="#A01C30"/>
<rect x="940.3" y="100.12" width="25.700000000000045" height="23.86" fill="#BE2838"/>
<rect x="940.3" y="123.68" width="25.700000000000045" height="23.86" fill="#CB3F44"/>
<rect x="940.3" y="147.24" width="25.700000000000045" height="23.86" fill="#D85D4E"/>
<rect x="940.3" y="170.80" width="25.700000000000045" height="23.86" fill="#E07964"/>
<rect x="940.3" y="194.36" width="25.700000000000045" height="23.86" fill="#E8937A"/>
<rect x="940.3" y="217.92" width="25.700000000000045" height="23.86" fill="#EEA88E"/>
<rect x="940.3" y="241.48" width="25.700000000000045" height="23.86" fill="#F0BEA4"/>
<rect x="940.3" y="265.04" width="25.700000000000045" height="23.86" fill="#F5D8C6"/>
<rect x="940.3" y="288.60" width="25.700000000000045" height="23.86" fill="#F9E7DB"/>
<rect x="940.3" y="312.16" width="25.700000000000045" height="23.86" fill="#F9F3EE"/>
<rect x="940.3" y="335.72" width="25.700000000000045" height="23.86" fill="#EDF4F7"/>
<rect x="940.3" y="359.28" width="25.700000000000045" height="23.86" fill="#DFEFF5"/>
<rect x="940.3" y="382.84" width="25.700000000000045" height="23.86" fill="#CCE5F1"/>
<rect x="940.3" y="406.40" width="25.700000000000045" height="23.86" fill="#B3DAEA"/>
<rect x="940.3" y="429.96" width="25.700000000000045" height="23.86" fill="#9FCFE2"/>
<rect x="940.3" y="453.52" width="25.700000000000045" height="23.86" fill="#85BCDB"/>
<rect x="940.3" y="477.08" width="25.700000000000045" height="23.86" fill="#6DABD1"/>
<rect x="940.3" y="500.64" width="25.700000000000045" height="23.86" fill="#5A9BC9"/>
<rect x="940.3" y="524.20" width="25.700000000000045" height="23.86" fill="#4A86C0"/>
<rect x="940.3" y="547.76" width="25.700000000000045" height="23.86" fill="#3E72B8"/>
<rect x="940.3" y="571.32" width="25.700000000000045" height="23.86" fill="#33609F"/>
<rect x="940.3" y="594.88" width="25.700000000000045" height="23.86" fill="#2A4B80"/>
<rect x="940.3" y="53.0" width="25.700000000000045" height="565.4399999999999" fill="none" stroke="#2b2726" stroke-width="2"/>
<path d="M960 148.2H966.0M960 242.3H966.0M960 336.5H966.0M960 430.6H966.0M960 524.8H966.0" stroke="#2b2726" stroke-width="1.6"/>
<g font-size="17.5" fill="#3e3a39">
<text x="978.9" y="60.2">3</text>
<text x="978.9" y="154.4">2</text>
<text x="978.9" y="248.6">1</text>
<text x="978.9" y="342.8">0</text>
<text x="978.9" y="437.0">-1</text>
<text x="978.9" y="531.2">-2</text>
<text x="978.9" y="625.4">-3</text>
</g>
<text y="34" font-size="20.5" fill="#231815"><tspan x="923.2">(</tspan><tspan x="929.6">c</tspan><tspan x="939.9">m</tspan><tspan x="956.8">·</tspan><tspan x="964.6">s</tspan><tspan x="975.4" dy="-8.5" font-size="15.5">-</tspan><tspan x="980.7" font-size="15.5">1</tspan><tspan x="991.3" dy="8.5">)</tspan></text>
<text x="2.6" y="29.7" font-size="46.5" font-weight="bold" fill="#231815">a</text>
</g>
<g transform="translate(0,673.5)">
<g clip-path="url(#plotclip)">
<rect x="117.6" y="15.0" width="802.0" height="603.8" fill="#EDF4F7"/>
<path d="M320.0 9.0L680.0 9.0L679.6 49.0L678.4 55.0L674.3 69.0L669.9 79.0L658.4 93.0L656.0 96.6L639.8 127.0L630.0 138.6L614.0 155.3L574.0 184.4L549.0 201.0L542.8 207.0L540.7 211.0L540.9 215.0L543.3 221.0L546.0 224.7L548.5 227.0L588.0 257.7L594.0 261.2L606.0 266.9L609.1 269.0L613.1 273.0L616.0 277.0L617.8 281.0L618.4 285.0L618.3 293.0L617.5 299.0L615.7 303.0L612.0 308.6L607.2 315.0L604.0 318.3L591.7 327.0L582.0 331.6L552.0 341.5L538.0 343.8L508.0 347.2L488.0 348.5L484.0 347.2L478.0 341.1L476.0 340.1L474.0 339.7L462.0 340.6L454.0 340.6L446.0 339.8L440.0 338.5L432.0 335.4L424.0 330.7L413.9 323.0L402.5 313.0L394.8 305.0L388.6 297.0L372.7 271.0L364.9 261.0L358.8 255.0L351.6 249.0L343.4 243.0L332.0 235.8L320.0 229.8L310.0 227.3L302.0 227.4L284.0 230.1L274.0 230.9L264.0 230.7L256.0 229.6L248.0 227.4L240.0 223.9L234.0 220.2L228.1 215.0L224.8 211.0L221.4 205.0L219.5 199.0L219.0 195.0L219.2 189.0L220.1 185.0L222.4 179.0L224.8 175.0L229.9 169.0L234.4 165.0L248.0 156.2L274.0 135.4L298.0 118.6L301.0 115.0L306.8 103.0L310.5 93.0L312.5 85.0L318.2 9.0L320.0 9.0ZM722.0 364.4L726.0 363.3L728.0 363.4L732.0 364.8L735.3 367.0L738.0 369.9L739.9 373.0L742.4 381.0L742.7 385.0L742.3 391.0L740.1 399.0L735.2 407.0L731.2 411.0L728.0 413.3L722.0 416.3L716.0 417.9L710.0 418.1L702.0 417.2L698.0 417.7L681.7 427.0L674.0 430.6L668.0 432.7L646.0 438.4L636.0 439.5L612.0 439.0L608.0 438.5L603.5 437.0L605.9 435.0L616.0 431.5L620.0 429.2L634.0 417.3L670.0 391.9L695.2 377.0L722.0 364.4Z" fill="#F9F3EE" fill-rule="evenodd"/>
<path d="M326.0 9.0L672.5 9.0L672.1 49.0L668.0 67.0L664.6 77.0L653.2 91.0L632.0 120.0L624.0 128.8L600.6 149.0L592.0 154.8L560.7 171.0L524.0 187.5L520.0 188.7L514.0 189.6L496.0 190.5L450.0 194.4L400.0 199.5L326.0 196.9L304.0 195.4L286.0 198.5L280.0 198.7L274.0 197.9L268.0 195.6L264.0 192.9L260.0 188.7L256.9 183.0L255.5 177.0L255.6 171.0L257.3 163.0L259.4 159.0L264.0 155.6L272.0 151.4L303.2 139.0L316.5 133.0L320.0 130.5L323.2 127.0L329.5 117.0L331.1 113.0L331.1 109.0L326.7 93.0L325.1 85.0L323.0 55.0L323.4 37.0L325.5 9.0L326.0 9.0ZM480.0 231.0L486.0 229.9L492.0 229.9L508.0 231.5L516.0 233.5L538.0 242.8L560.0 256.1L565.4 261.0L572.2 269.0L574.8 273.0L577.7 281.0L578.8 287.0L578.6 291.0L577.2 295.0L572.8 303.0L569.1 307.0L558.9 315.0L555.8 317.0L550.0 319.5L530.0 325.6L504.0 327.8L496.0 327.0L480.0 322.3L466.0 315.2L455.2 311.0L448.0 306.7L443.6 303.0L440.0 299.0L437.2 295.0L434.4 289.0L433.1 285.0L432.3 279.0L432.6 273.0L433.7 269.0L442.9 253.0L446.0 249.2L450.0 245.6L460.0 238.2L466.0 234.7L480.0 231.0Z" fill="#F9E7DB" fill-rule="evenodd"/>
<path d="M334.0 9.0L664.3 9.0L664.0 36.4L660.0 56.1L652.2 75.0L646.0 83.7L630.0 99.6L618.0 109.8L612.0 113.8L550.7 145.0L528.0 158.0L520.0 161.8L498.0 169.8L474.0 175.2L448.0 176.6L400.0 176.7L368.0 177.5L352.0 179.8L344.0 181.7L330.0 185.9L316.0 187.9L296.0 188.2L290.0 187.7L284.0 186.4L280.6 185.0L278.1 183.0L276.7 181.0L274.1 175.0L273.5 171.0L273.8 169.0L274.8 167.0L278.0 164.1L284.0 161.5L292.0 159.9L308.0 159.4L330.0 160.5L338.0 159.8L344.0 158.6L354.0 154.6L362.0 149.5L366.0 144.8L369.0 139.0L369.2 137.0L368.2 133.0L362.1 121.0L357.1 113.0L348.0 101.6L343.0 93.0L338.7 83.0L334.4 71.0L333.0 61.0L331.4 39.0L334.0 9.0ZM486.0 258.9L500.0 257.3L506.0 257.3L522.0 261.7L530.0 265.5L540.1 273.0L542.2 275.0L544.9 279.0L546.7 283.0L547.4 287.0L546.5 291.0L544.5 295.0L542.0 298.5L539.2 301.0L529.0 307.0L522.0 309.6L512.0 311.2L502.0 311.5L492.0 310.2L484.0 308.1L472.7 303.0L467.8 299.0L462.5 293.0L458.8 285.0L458.0 281.0L458.3 279.0L461.1 273.0L466.0 267.7L476.0 262.0L480.0 260.4L486.0 258.9Z" fill="#F5D8C6" fill-rule="evenodd"/>
<path d="M344.0 9.0L654.2 9.0L653.7 19.0L650.8 39.0L648.1 47.0L642.0 61.2L637.7 69.0L627.2 83.0L621.7 89.0L610.0 99.9L603.6 105.0L585.4 117.0L559.5 131.0L551.0 135.0L524.0 145.7L502.0 149.6L492.0 150.5L470.0 150.0L444.0 146.7L436.0 145.0L414.0 138.4L404.0 134.1L388.0 125.5L380.0 119.6L368.0 109.1L362.0 102.0L354.0 90.9L346.6 75.0L343.7 67.0L342.3 59.0L340.7 37.0L342.0 9.0L344.0 9.0ZM288.0 172.6L292.0 171.3L296.0 171.7L298.0 172.6L300.7 175.0L301.3 177.0L300.7 179.0L298.8 181.0L296.0 182.0L292.0 182.2L288.0 181.0L286.1 179.0L285.4 177.0L285.8 175.0L288.0 172.6ZM488.0 281.0L494.0 279.9L498.0 280.0L502.0 280.4L508.0 282.4L511.8 285.0L513.6 287.0L514.6 289.0L514.5 293.0L513.4 295.0L510.0 298.1L506.0 300.1L502.0 301.2L494.0 301.6L488.0 300.4L484.3 299.0L481.1 297.0L479.2 295.0L478.2 293.0L477.9 289.0L478.7 287.0L480.2 285.0L484.0 282.4L488.0 281.0Z" fill="#F0BEA4" fill-rule="evenodd"/>
<path d="M350.0 9.0L645.0 9.0L644.4 17.0L641.3 29.0L636.8 41.0L631.4 53.0L618.0 73.7L611.3 81.0L600.0 91.9L578.0 107.3L560.0 117.5L550.0 122.1L524.0 131.2L504.0 134.0L494.0 134.8L474.0 133.9L462.0 132.3L440.0 128.0L420.0 121.5L408.0 116.9L392.0 108.1L382.0 101.6L372.0 93.3L367.6 89.0L364.0 84.0L357.1 71.0L353.8 63.0L350.2 39.0L350.0 9.0ZM492.0 286.8L496.0 286.3L500.5 287.0L503.6 289.0L504.4 291.0L503.6 293.0L500.6 295.0L498.0 295.6L494.0 295.6L491.5 295.0L488.4 293.0L487.6 291.0L488.4 289.0L492.0 286.8Z" fill="#EEA88E" fill-rule="evenodd"/>
<path d="M358.0 9.0L636.6 9.0L635.1 19.0L632.2 29.0L627.4 41.0L622.0 51.2L614.1 63.0L607.5 71.0L598.0 80.5L588.0 88.7L574.0 98.3L560.0 106.3L548.0 112.0L534.0 117.4L524.0 120.4L514.0 122.4L484.0 124.1L472.0 123.4L456.0 120.6L440.0 116.5L426.0 111.8L414.0 106.9L402.0 100.5L392.0 94.0L382.0 85.9L376.0 79.7L371.1 73.0L366.7 65.0L363.5 57.0L360.8 47.0L359.1 37.0L358.1 23.0L358.0 9.0Z" fill="#E8937A" fill-rule="evenodd"/>
<path d="M366.0 9.0L628.5 9.0L627.1 19.0L624.3 29.0L620.1 39.0L615.6 47.0L608.0 57.8L600.0 67.0L591.7 75.0L581.8 83.0L570.0 91.0L554.0 100.1L542.0 105.6L530.0 110.0L520.0 112.9L510.0 114.8L484.0 116.2L474.0 115.5L460.0 112.8L444.0 108.4L430.0 103.5L420.0 99.3L410.0 94.0L400.0 87.4L392.1 81.0L386.0 74.9L379.9 67.0L375.2 59.0L371.8 51.0L368.8 41.0L366.9 31.0L365.7 17.0L365.5 9.0L366.0 9.0Z" fill="#E07964" fill-rule="evenodd"/>
<path d="M374.0 9.0L620.8 9.0L620.0 17.0L618.0 25.2L614.2 35.0L610.0 42.5L602.3 53.0L595.5 61.0L588.0 68.1L576.0 78.1L566.0 84.8L550.0 94.0L542.0 97.7L528.0 103.1L518.0 106.2L508.0 108.3L498.0 109.5L488.0 109.8L478.0 109.2L468.0 107.4L454.0 103.7L438.0 98.2L428.0 94.0L418.0 89.0L410.0 83.9L401.3 77.0L395.1 71.0L388.6 63.0L383.6 55.0L380.0 47.1L376.6 37.0L374.7 29.0L373.4 15.0L373.2 9.0L374.0 9.0Z" fill="#D85D4E" fill-rule="evenodd"/>
<path d="M382.0 9.0L613.0 9.0L612.5 17.0L611.2 23.0L608.4 31.0L605.3 37.0L598.1 47.0L590.0 56.8L571.7 73.0L564.0 78.3L546.0 88.9L526.0 97.3L518.0 100.0L506.0 102.8L498.0 104.0L490.0 104.2L482.0 103.9L474.0 102.6L458.0 98.5L446.0 94.2L436.0 90.1L424.0 84.1L418.0 80.4L410.0 74.0L404.0 68.5L399.1 63.0L392.2 53.0L389.0 47.0L383.8 33.0L382.3 27.0L381.0 13.0L381.0 9.0L382.0 9.0Z" fill="#CB3F44" fill-rule="evenodd"/>
<path d="M390.0 9.0L605.1 9.0L604.5 17.0L603.2 23.0L600.1 31.0L596.8 37.0L591.3 45.0L584.7 53.0L576.5 61.0L568.0 68.3L560.0 73.9L545.1 83.0L526.0 91.7L516.0 95.2L506.0 97.7L498.0 98.9L490.0 99.2L482.0 98.8L474.0 97.5L462.0 94.4L452.0 90.9L440.0 85.7L431.0 81.0L424.0 76.7L416.0 70.3L408.6 63.0L403.8 57.0L398.7 49.0L394.8 41.0L391.3 31.0L389.6 23.0L388.8 9.0L390.0 9.0Z" fill="#BE2838" fill-rule="evenodd"/>
<path d="M398.0 9.0L597.0 9.0L596.4 17.0L595.0 23.0L592.8 29.0L588.6 37.0L583.2 45.0L578.2 51.0L565.5 63.0L557.4 69.0L544.9 77.0L536.0 81.8L524.6 87.0L516.0 90.1L506.0 92.8L498.0 94.1L490.0 94.5L482.0 94.1L474.0 92.8L464.0 90.1L455.2 87.0L446.0 82.9L436.0 77.5L429.1 73.0L421.7 67.0L415.8 61.0L410.0 53.7L405.8 47.0L401.9 39.0L398.6 29.0L397.1 21.0L396.7 9.0L398.0 9.0Z" fill="#A01C30" fill-rule="evenodd"/>
<path d="M406.0 9.0L588.8 9.0L588.4 15.0L587.2 21.0L585.2 27.0L581.6 35.0L578.0 41.0L573.3 47.0L562.0 58.4L553.2 65.0L542.0 72.4L530.0 79.0L522.0 82.7L514.0 85.6L504.0 88.4L498.0 89.3L490.0 89.7L482.0 89.3L476.0 88.4L466.0 85.8L458.2 83.0L448.0 78.1L440.0 73.5L433.7 69.0L426.7 63.0L421.1 57.0L416.6 51.0L411.9 43.0L408.4 35.0L406.1 27.0L404.9 19.0L404.8 9.0L406.0 9.0Z" fill="#851629" fill-rule="evenodd"/>
<path d="M154.0 9.0L311.5 9.0L311.2 17.0L307.9 43.0L302.6 73.0L300.0 94.2L298.0 100.1L292.0 107.1L286.7 111.0L270.0 119.1L254.0 125.1L250.0 125.6L246.0 124.8L240.0 122.3L230.4 117.0L209.4 101.0L190.0 84.2L182.0 75.8L171.1 63.0L166.0 54.1L158.0 37.0L154.6 19.0L154.0 9.0ZM688.0 9.0L891.4 9.0L886.1 21.0L880.3 43.0L876.9 53.0L873.1 61.0L868.0 68.5L860.0 76.2L844.0 87.8L828.0 98.0L818.0 107.4L811.5 111.0L806.0 115.0L799.8 121.0L792.0 132.6L789.9 137.0L788.0 143.0L787.3 147.0L787.4 151.0L790.0 159.5L798.4 177.0L799.1 181.0L798.1 187.0L793.8 201.0L779.8 225.0L763.1 249.0L753.0 269.0L744.0 288.6L722.6 327.0L719.0 331.0L714.0 334.0L706.0 337.0L698.0 338.3L692.0 337.4L683.6 335.0L678.0 331.6L673.6 327.0L670.0 322.2L668.0 318.3L662.2 295.0L656.7 285.0L651.7 279.0L640.8 269.0L618.0 255.7L612.8 251.0L602.7 237.0L599.0 231.0L596.6 223.0L595.6 213.0L595.9 209.0L597.1 205.0L603.6 195.0L610.4 187.0L639.9 159.0L652.8 139.0L659.6 127.0L667.9 101.0L679.2 81.0L681.5 75.0L684.9 63.0L686.6 51.0L688.0 9.0ZM500.0 368.2L506.0 367.1L512.0 367.3L518.0 368.7L523.9 371.0L530.4 375.0L534.5 379.0L536.3 383.0L536.0 385.0L534.4 387.0L531.0 389.0L522.0 391.6L512.0 392.1L506.0 390.6L502.0 388.4L498.5 385.0L494.6 377.0L494.5 373.0L495.7 371.0L498.1 369.0L500.0 368.2Z" fill="#DFEFF5" fill-rule="evenodd"/>
<path d="M200.0 9.0L301.5 9.0L300.6 21.0L296.8 33.0L294.0 38.7L285.5 53.0L274.4 79.0L272.0 82.2L270.0 83.0L266.0 82.3L256.0 76.2L242.0 65.9L233.3 57.0L224.9 51.0L220.5 47.0L211.3 35.0L205.0 25.0L200.3 15.0L199.3 9.0L200.0 9.0ZM698.0 10.9L698.1 9.0L859.4 9.0L856.9 17.0L849.3 35.0L840.0 48.9L830.0 60.0L826.0 62.8L822.0 64.7L800.0 74.1L776.0 83.5L761.6 91.0L755.6 95.0L750.9 99.0L728.0 123.5L724.0 126.2L720.0 127.2L716.0 126.3L714.0 124.9L710.0 120.6L706.0 115.2L700.6 105.0L696.2 91.0L694.6 71.0L698.1 37.0L698.0 10.9ZM710.0 148.7L712.0 149.1L716.0 151.5L740.0 168.0L756.0 180.0L761.0 185.0L762.1 187.0L762.9 191.0L761.4 203.0L756.8 217.0L750.7 229.0L736.0 252.4L730.0 259.1L722.0 265.2L716.0 267.0L708.0 267.8L702.0 266.7L688.0 262.2L672.0 253.6L665.0 249.0L656.5 241.0L650.1 233.0L646.5 225.0L645.1 219.0L645.5 215.0L647.4 209.0L651.3 203.0L663.6 191.0L683.9 175.0L698.1 161.0L706.0 151.3L708.0 149.4L710.0 148.7Z" fill="#CCE5F1" fill-rule="evenodd"/>
<path d="M240.0 9.0L292.9 9.0L292.8 11.0L292.3 15.0L290.8 19.0L286.0 26.3L282.0 31.1L278.0 34.5L274.0 36.7L268.0 37.7L264.0 36.9L258.0 34.0L252.0 30.3L248.1 27.0L241.7 19.0L239.5 15.0L238.4 9.0L240.0 9.0ZM728.0 9.0L840.2 9.0L838.7 17.0L836.9 21.0L834.3 25.0L830.0 29.3L822.0 34.6L816.0 37.4L800.0 42.4L782.0 43.7L776.0 43.4L754.0 40.3L746.0 38.4L742.0 36.4L734.0 29.9L730.8 25.0L727.4 15.0L727.0 9.0L728.0 9.0ZM698.0 210.8L706.0 209.7L712.0 210.6L718.0 213.3L722.3 217.0L724.6 221.0L725.3 227.0L723.0 233.0L719.3 237.0L716.0 239.3L712.0 240.9L708.0 241.7L704.0 241.8L699.4 241.0L694.2 239.0L691.1 237.0L688.0 234.1L685.9 231.0L684.7 227.0L684.6 225.0L685.6 221.0L688.0 217.1L690.2 215.0L694.0 212.5L698.0 210.8Z" fill="#B3DAEA" fill-rule="evenodd"/>
<path d="M740.0 9.0L834.4 9.0L833.8 13.0L832.0 17.4L830.0 20.0L825.9 23.0L817.4 27.0L810.0 29.5L800.0 31.3L792.0 31.6L762.0 29.0L748.9 25.0L745.0 23.0L742.4 21.0L740.0 17.3L738.9 13.0L738.7 9.0L740.0 9.0Z" fill="#9FCFE2" fill-rule="evenodd"/>
<path d="M784.0 9.0L818.3 9.0L817.6 13.0L816.7 15.0L811.8 21.0L808.0 23.6L804.0 24.8L800.0 25.3L794.0 24.1L788.9 21.0L787.1 19.0L784.8 15.0L783.7 11.0L783.5 9.0L784.0 9.0Z" fill="#85BCDB" fill-rule="evenodd"/>
<path d="M119.0 44.5 L157.0 44.0" fill="none" stroke="#8c8887" stroke-width="1.3"/>
<path d="M186.0 42.0C213.3 41.4 281.0 40.0 350.0 38.2C419.0 36.5 516.7 32.3 600.0 31.5C683.3 30.7 804.8 32.8 850.0 33.2C895.2 33.7 867.5 33.9 871.0 34.0" fill="none" stroke="#8c8887" stroke-width="1.3"/>
<path d="M119.0 87.0 L157.0 86.5" fill="none" stroke="#8c8887" stroke-width="1.3"/>
<path d="M186.0 85.8C213.3 84.9 281.0 83.5 350.0 80.8C419.0 78.0 529.2 71.0 600.0 69.5C670.8 68.0 733.3 71.0 775.0 72.0C816.7 73.0 836.3 75.0 850.0 75.8C863.7 76.5 855.8 76.4 857.0 76.5" fill="none" stroke="#8c8887" stroke-width="1.3"/>
<path d="M132.5 122.5 L145.0 122.2" fill="none" stroke="#8c8887" stroke-width="1.3"/>
<path d="M197.5 119.5C222.9 118.5 282.9 115.8 350.0 113.2C417.1 110.8 537.5 105.8 600.0 104.5C662.5 103.2 684.2 104.9 725.0 105.8C765.8 106.6 825.0 108.9 845.0 109.5" fill="none" stroke="#8c8887" stroke-width="1.3"/>
<path d="M261.0 164.0 L381.0 162.5" fill="none" stroke="#8c8887" stroke-width="1.3"/>
<path d="M442.5 163.2C468.8 163.9 552.9 165.8 600.0 167.0C647.1 168.2 691.7 169.5 725.0 170.8C758.3 172.0 783.8 174.0 800.0 174.5C816.2 175.0 818.8 174.1 822.5 174.0" fill="none" stroke="#8c8887" stroke-width="1.3"/>
<path d="M297.5 185.8C301.2 186.2 311.2 188.0 320.0 188.5C328.8 189.0 339.2 189.3 350.0 189.0C360.8 188.7 379.2 186.9 385.0 186.5" fill="none" stroke="#8c8887" stroke-width="1.3"/>
<path d="M470.0 187.5C479.2 188.2 509.6 190.0 525.0 192.0C540.4 194.0 550.0 197.6 562.5 199.5C575.0 201.4 581.2 202.2 600.0 203.2C618.8 204.3 654.2 204.7 675.0 205.8C695.8 206.8 710.4 208.0 725.0 209.5C739.6 211.0 751.0 214.3 762.5 214.5C774.0 214.7 788.5 211.4 793.8 210.8" fill="none" stroke="#8c8887" stroke-width="1.3"/>
<path d="M457.5 299.5C455.8 296.6 450.6 287.0 447.5 282.0C444.4 277.0 440.2 272.2 438.8 269.5C437.3 266.8 436.3 267.0 439.0 265.5C441.7 264.0 449.0 264.0 455.0 260.8C461.0 257.5 467.5 248.5 475.0 245.8C482.5 243.0 491.7 243.9 500.0 244.5C508.3 245.1 516.7 247.4 525.0 249.5C533.3 251.6 541.7 254.9 550.0 257.0C558.3 259.1 566.7 260.8 575.0 262.0C583.3 263.2 592.5 263.2 600.0 264.5C607.5 265.8 614.2 266.6 620.0 269.5C625.8 272.4 631.9 278.6 635.0 282.0C638.1 285.4 639.2 287.1 638.8 290.0C638.3 292.9 636.9 297.3 632.5 299.5C628.1 301.7 621.2 302.4 612.5 303.2C603.8 304.1 589.6 302.6 580.0 304.5C570.4 306.4 562.5 310.3 555.0 314.5C547.5 318.7 540.9 325.5 535.0 329.5C529.1 333.5 522.1 336.8 519.5 338.2" fill="none" stroke="#8c8887" stroke-width="1.3"/>
<path d="M200.0 15.0C201.2 17.4 204.2 24.2 207.5 29.5C210.8 34.8 214.6 41.2 220.0 47.0C225.4 52.8 234.2 59.7 240.0 64.5C245.8 69.3 250.4 72.4 255.0 75.8C259.6 79.1 265.4 83.0 267.5 84.5" fill="none" stroke="#0a0a0a" stroke-width="2.3" stroke-linecap="butt"/>
<path d="M301.0 15.0C300.8 16.6 301.0 20.8 300.0 24.5C299.0 28.2 296.9 33.5 295.0 37.0C293.1 40.5 289.8 44.3 288.8 45.8" fill="none" stroke="#0a0a0a" stroke-width="2.3" stroke-linecap="butt"/>
<path d="M333.8 15.0C333.3 18.7 331.0 27.9 331.0 37.0C331.0 46.1 331.8 60.3 333.8 69.5C335.7 78.7 339.8 86.2 342.5 92.0C345.2 97.8 347.5 101.2 350.0 104.5C352.5 107.8 355.0 108.6 357.5 112.0C360.0 115.4 362.8 120.8 365.0 125.0C367.2 129.2 370.0 135.0 371.0 137.0" fill="none" stroke="#0a0a0a" stroke-width="1.9" stroke-linecap="butt"/>
<path d="M332.5 160.8C328.3 160.5 315.4 159.5 307.5 159.5C299.6 159.5 290.4 159.7 285.0 160.8C279.6 161.8 277.1 164.1 275.0 165.8C272.9 167.4 271.7 168.5 272.5 170.8C273.3 173.0 276.2 176.8 280.0 179.5C283.8 182.2 290.0 185.3 295.0 187.0C300.0 188.7 304.2 189.5 310.0 189.5C315.8 189.5 324.2 188.2 330.0 187.0C335.8 185.8 339.2 183.5 345.0 182.0C350.8 180.5 355.8 179.1 365.0 178.2C374.2 177.4 385.8 177.2 400.0 177.0C414.2 176.8 437.5 177.2 450.0 177.0C462.5 176.8 466.7 177.0 475.0 175.8C483.3 174.5 491.7 172.2 500.0 169.5C508.3 166.8 516.7 163.7 525.0 159.5C533.3 155.3 540.8 149.5 550.0 144.5C559.2 139.5 571.7 133.7 580.0 129.5C588.3 125.3 594.2 122.4 600.0 119.5C605.8 116.6 609.2 115.8 615.0 112.0C620.8 108.2 629.2 102.4 635.0 97.0C640.8 91.6 645.8 86.2 650.0 79.5C654.2 72.8 657.6 64.1 660.0 57.0C662.4 49.9 663.8 44.0 664.5 37.0C665.2 30.0 664.5 18.7 664.5 15.0" fill="none" stroke="#0a0a0a" stroke-width="2.5" stroke-linecap="butt"/>
<path d="M413.8 15.0C414.0 17.4 413.5 24.2 415.0 29.5C416.5 34.8 421.2 44.1 422.5 47.0" fill="none" stroke="#0a0a0a" stroke-width="1.9" stroke-linecap="butt"/>
<path d="M446.0 70.8C448.8 72.2 456.8 77.2 462.5 79.5C468.2 81.8 473.8 83.7 480.0 84.5C486.2 85.3 493.3 85.5 500.0 84.5C506.7 83.5 513.3 81.2 520.0 78.2C526.7 75.3 533.3 71.4 540.0 67.0C546.7 62.6 554.6 57.0 560.0 52.0C565.4 47.0 569.4 42.4 572.5 37.0C575.6 31.6 577.6 23.2 578.8 19.5C579.9 15.8 579.4 15.8 579.5 15.0" fill="none" stroke="#0a0a0a" stroke-width="1.9" stroke-linecap="butt"/>
<path d="M381.0 15.0C381.2 17.4 381.0 23.8 382.5 29.5C384.0 35.2 387.1 43.7 390.0 49.5C392.9 55.3 398.3 62.0 400.0 64.5" fill="none" stroke="#0a0a0a" stroke-width="1.9" stroke-linecap="butt"/>
<path d="M420.0 82.0C422.9 83.5 431.2 88.0 437.5 90.8C443.8 93.5 450.4 96.0 457.5 98.2C464.6 100.5 472.9 103.0 480.0 104.0C487.1 105.0 493.3 104.8 500.0 104.0C506.7 103.2 512.5 101.9 520.0 99.5C527.5 97.1 536.7 93.7 545.0 89.5C553.3 85.3 562.5 79.9 570.0 74.5C577.5 69.1 585.0 62.0 590.0 57.0C595.0 52.0 597.1 48.3 600.0 44.5C602.9 40.7 605.4 38.2 607.5 34.0C609.6 29.8 611.6 22.7 612.5 19.5C613.4 16.3 612.9 15.8 613.0 15.0" fill="none" stroke="#0a0a0a" stroke-width="1.9" stroke-linecap="butt"/>
<path d="M697.5 15.0C697.6 18.7 698.2 30.4 698.0 37.0C697.8 43.6 696.7 49.1 696.0 54.5C695.3 59.9 693.8 63.2 693.8 69.5C693.8 75.8 694.5 85.3 696.0 92.0C697.5 98.7 699.8 104.3 702.5 109.5C705.2 114.7 709.6 120.1 712.5 123.2C715.4 126.4 717.5 128.0 720.0 128.2C722.5 128.5 724.2 127.6 727.5 124.5C730.8 121.4 735.4 114.5 740.0 109.5C744.6 104.5 749.6 98.7 755.0 94.5C760.4 90.3 769.6 86.2 772.5 84.5" fill="none" stroke="#0a0a0a" stroke-width="2.0" stroke-linecap="butt"/>
<path d="M828.8 62.0C830.6 59.9 836.5 54.1 840.0 49.5C843.5 44.9 847.0 40.2 850.0 34.5C853.0 28.8 856.7 18.2 858.0 15.0" fill="none" stroke="#0a0a0a" stroke-width="2.0" stroke-linecap="butt"/>
<path d="M763.8 185.8C759.8 182.8 747.7 173.7 740.0 168.2C732.3 162.8 722.8 156.6 717.5 153.2C712.2 149.9 710.9 147.2 708.0 148.2C705.1 149.3 704.2 154.7 700.0 159.5C695.8 164.3 688.8 171.6 682.5 177.0C676.2 182.4 668.3 187.0 662.5 192.0C656.7 197.0 650.5 202.4 647.5 207.0C644.5 211.6 644.1 214.9 644.5 219.5C644.9 224.1 646.6 229.5 650.0 234.5C653.4 239.5 658.8 244.9 665.0 249.5C671.2 254.1 680.4 258.9 687.5 262.0C694.6 265.1 701.7 267.6 707.5 268.2C713.3 268.9 717.9 268.0 722.5 265.8C727.1 263.5 731.5 258.9 735.0 254.5C738.5 250.1 742.3 242.0 743.8 239.5" fill="none" stroke="#0a0a0a" stroke-width="2.6" stroke-linecap="butt"/>
<path d="M457.0 280.8C457.9 278.9 458.7 273.0 462.5 269.5C466.3 266.0 472.9 261.7 480.0 259.5C487.1 257.3 497.1 255.9 505.0 256.5C512.9 257.1 521.0 260.0 527.5 263.2C534.0 266.5 540.2 271.8 543.8 275.8C547.3 279.7 549.0 283.0 548.8 287.0C548.5 291.0 546.5 295.8 542.5 299.5C538.5 303.2 531.2 307.4 525.0 309.5C518.8 311.6 511.0 312.0 505.0 312.0C499.0 312.0 491.5 309.9 488.8 309.5" fill="none" stroke="#0a0a0a" stroke-width="2.6" stroke-linecap="butt"/>
<path d="M117.6 623.8 L117.6 120.5C121.3 121.6 132.9 125.0 140.0 127.0C147.1 129.0 153.3 130.8 160.0 132.5C166.7 134.2 173.3 135.6 180.0 137.5C186.7 139.4 194.2 141.7 200.0 143.8C205.8 145.8 210.5 148.1 215.0 150.0C219.5 151.9 223.0 153.3 227.0 155.0C231.0 156.7 234.7 158.9 239.0 160.0C243.3 161.1 249.0 160.8 253.0 161.8C257.0 162.8 260.0 164.3 263.0 166.0C266.0 167.7 268.7 170.0 271.0 172.0C273.3 174.0 275.0 175.8 277.0 178.0C279.0 180.2 280.0 182.6 283.0 185.0C286.0 187.4 291.0 189.9 295.0 192.3C299.0 194.7 302.8 196.6 307.0 199.5C311.2 202.4 315.8 207.2 320.0 210.0C324.2 212.8 327.7 214.2 332.0 216.0C336.3 217.8 342.0 219.0 346.0 221.0C350.0 223.0 353.0 225.2 356.0 228.0C359.0 230.8 361.3 234.7 364.0 238.0C366.7 241.3 369.3 244.3 372.0 248.0C374.7 251.7 377.7 256.7 380.0 260.0C382.3 263.3 383.3 265.7 386.0 268.0C388.7 270.3 393.0 271.7 396.0 274.0C399.0 276.3 401.3 280.0 404.0 282.0C406.7 284.0 409.3 284.0 412.0 286.0C414.7 288.0 417.3 291.3 420.0 294.0C422.7 296.7 425.3 299.3 428.0 302.0C430.7 304.7 433.3 307.3 436.0 310.0C438.7 312.7 441.0 316.3 444.0 318.0C447.0 319.7 450.7 319.0 454.0 320.0C457.3 321.0 461.3 322.0 464.0 324.0C466.7 326.0 468.3 329.3 470.0 332.0C471.7 334.7 472.3 337.0 474.0 340.0C475.7 343.0 478.2 345.8 480.0 350.0C481.8 354.2 483.3 359.6 485.0 365.0C486.7 370.4 487.9 377.1 490.0 382.5C492.1 387.9 494.6 392.9 497.5 397.5C500.4 402.1 504.6 406.7 507.5 410.0C510.4 413.3 510.8 412.9 515.0 417.5C519.2 422.1 527.1 431.2 532.5 437.5C537.9 443.8 543.2 449.1 547.5 455.0C551.8 460.9 555.1 468.0 558.0 473.0C560.9 478.0 562.2 479.2 565.0 485.0C567.8 490.8 571.7 499.6 575.0 507.5C578.3 515.4 581.7 524.6 585.0 532.5C588.3 540.4 592.1 548.3 595.0 555.0C597.9 561.7 600.4 567.7 602.5 572.5C604.6 577.3 605.6 580.9 607.5 583.8C609.4 586.6 611.2 588.9 613.8 589.5C616.2 590.1 620.0 589.5 622.5 587.5C625.0 585.5 626.7 582.9 628.8 577.5C630.8 572.1 632.7 563.8 635.0 555.0C637.3 546.2 640.0 534.2 642.5 525.0C645.0 515.8 647.5 507.5 650.0 500.0C652.5 492.5 654.2 487.5 657.5 480.0C660.8 472.5 665.4 463.3 670.0 455.0C674.6 446.7 680.8 436.5 685.0 430.0C689.2 423.5 692.0 418.8 695.0 416.0C698.0 413.2 700.3 414.5 703.0 413.5C705.7 412.5 708.8 411.4 711.0 410.0C713.2 408.6 714.1 407.5 716.0 405.0C717.9 402.5 720.6 399.6 722.5 395.0C724.4 390.4 725.4 384.2 727.5 377.5C729.6 370.8 731.7 362.9 735.0 355.0C738.3 347.1 743.3 338.8 747.5 330.0C751.7 321.2 756.2 310.8 760.0 302.5C763.8 294.2 767.1 286.7 770.0 280.0C772.9 273.3 773.8 268.8 777.5 262.5C781.2 256.2 787.1 250.8 792.5 242.5C797.9 234.2 805.0 221.7 810.0 212.5C815.0 203.3 819.0 194.6 822.5 187.5C826.0 180.4 828.4 176.9 831.0 170.0C833.6 163.1 835.2 155.3 838.0 146.0C840.8 136.7 844.7 125.0 848.0 114.0C851.3 103.0 854.7 90.7 858.0 80.0C861.3 69.3 864.8 60.5 868.0 50.0C871.2 39.5 875.5 22.5 877.0 17.0 L922.6 17 L922.6 623.8Z" fill="#B5B6B6"/>
<path d="M117.6 120.5C121.3 121.6 132.9 125.0 140.0 127.0C147.1 129.0 153.3 130.8 160.0 132.5C166.7 134.2 173.3 135.6 180.0 137.5C186.7 139.4 194.2 141.7 200.0 143.8C205.8 145.8 210.5 148.1 215.0 150.0C219.5 151.9 223.0 153.3 227.0 155.0C231.0 156.7 234.7 158.9 239.0 160.0C243.3 161.1 249.0 160.8 253.0 161.8C257.0 162.8 260.0 164.3 263.0 166.0C266.0 167.7 268.7 170.0 271.0 172.0C273.3 174.0 275.0 175.8 277.0 178.0C279.0 180.2 280.0 182.6 283.0 185.0C286.0 187.4 291.0 189.9 295.0 192.3C299.0 194.7 302.8 196.6 307.0 199.5C311.2 202.4 315.8 207.2 320.0 210.0C324.2 212.8 327.7 214.2 332.0 216.0C336.3 217.8 342.0 219.0 346.0 221.0C350.0 223.0 353.0 225.2 356.0 228.0C359.0 230.8 361.3 234.7 364.0 238.0C366.7 241.3 369.3 244.3 372.0 248.0C374.7 251.7 377.7 256.7 380.0 260.0C382.3 263.3 383.3 265.7 386.0 268.0C388.7 270.3 393.0 271.7 396.0 274.0C399.0 276.3 401.3 280.0 404.0 282.0C406.7 284.0 409.3 284.0 412.0 286.0C414.7 288.0 417.3 291.3 420.0 294.0C422.7 296.7 425.3 299.3 428.0 302.0C430.7 304.7 433.3 307.3 436.0 310.0C438.7 312.7 441.0 316.3 444.0 318.0C447.0 319.7 450.7 319.0 454.0 320.0C457.3 321.0 461.3 322.0 464.0 324.0C466.7 326.0 468.3 329.3 470.0 332.0C471.7 334.7 472.3 337.0 474.0 340.0C475.7 343.0 478.2 345.8 480.0 350.0C481.8 354.2 483.3 359.6 485.0 365.0C486.7 370.4 487.9 377.1 490.0 382.5C492.1 387.9 494.6 392.9 497.5 397.5C500.4 402.1 504.6 406.7 507.5 410.0C510.4 413.3 510.8 412.9 515.0 417.5C519.2 422.1 527.1 431.2 532.5 437.5C537.9 443.8 543.2 449.1 547.5 455.0C551.8 460.9 555.1 468.0 558.0 473.0C560.9 478.0 562.2 479.2 565.0 485.0C567.8 490.8 571.7 499.6 575.0 507.5C578.3 515.4 581.7 524.6 585.0 532.5C588.3 540.4 592.1 548.3 595.0 555.0C597.9 561.7 600.4 567.7 602.5 572.5C604.6 577.3 605.6 580.9 607.5 583.8C609.4 586.6 611.2 588.9 613.8 589.5C616.2 590.1 620.0 589.5 622.5 587.5C625.0 585.5 626.7 582.9 628.8 577.5C630.8 572.1 632.7 563.8 635.0 555.0C637.3 546.2 640.0 534.2 642.5 525.0C645.0 515.8 647.5 507.5 650.0 500.0C652.5 492.5 654.2 487.5 657.5 480.0C660.8 472.5 665.4 463.3 670.0 455.0C674.6 446.7 680.8 436.5 685.0 430.0C689.2 423.5 692.0 418.8 695.0 416.0C698.0 413.2 700.3 414.5 703.0 413.5C705.7 412.5 708.8 411.4 711.0 410.0C713.2 408.6 714.1 407.5 716.0 405.0C717.9 402.5 720.6 399.6 722.5 395.0C724.4 390.4 725.4 384.2 727.5 377.5C729.6 370.8 731.7 362.9 735.0 355.0C738.3 347.1 743.3 338.8 747.5 330.0C751.7 321.2 756.2 310.8 760.0 302.5C763.8 294.2 767.1 286.7 770.0 280.0C772.9 273.3 773.8 268.8 777.5 262.5C781.2 256.2 787.1 250.8 792.5 242.5C797.9 234.2 805.0 221.7 810.0 212.5C815.0 203.3 819.0 194.6 822.5 187.5C826.0 180.4 828.4 176.9 831.0 170.0C833.6 163.1 835.2 155.3 838.0 146.0C840.8 136.7 844.7 125.0 848.0 114.0C851.3 103.0 854.7 90.7 858.0 80.0C861.3 69.3 864.8 60.5 868.0 50.0C871.2 39.5 875.5 22.5 877.0 17.0" fill="none" stroke="#ffffff" stroke-width="2.5"/>
</g>
<text x="170.6" y="44.3" transform="rotate(0 170.6 44.3)" font-size="20" fill="#9f9c9b" text-anchor="middle" dominant-baseline="central">1.2</text>
<text x="170.6" y="86.8" transform="rotate(0 170.6 86.8)" font-size="20" fill="#9f9c9b" text-anchor="middle" dominant-baseline="central">1.1</text>
<text x="171" y="121.3" transform="rotate(-1 171 121.3)" font-size="20" fill="#9f9c9b" text-anchor="middle" dominant-baseline="central">1.05</text>
<text x="411" y="163.3" transform="rotate(0 411 163.3)" font-size="20" fill="#9f9c9b" text-anchor="middle" dominant-baseline="central">1.02</text>
<text x="427" y="187.3" transform="rotate(0 427 187.3)" font-size="20" fill="#9f9c9b" text-anchor="middle" dominant-baseline="central">1.0135</text>
<text x="483.75" y="324.5" transform="rotate(30 483.75 324.5)" font-size="20" fill="#9f9c9b" text-anchor="middle" dominant-baseline="central">1.0135</text>
<text x="276.5" y="71" transform="rotate(-65 276.5 71)" font-size="20" fill="#1a1716" text-anchor="middle" dominant-baseline="central">-0.5</text>
<text x="353" y="152" transform="rotate(-28 353 152)" font-size="20" fill="#1a1716" text-anchor="middle" dominant-baseline="central">0.5</text>
<text x="436" y="62" transform="rotate(55 436 62)" font-size="20" fill="#1a1716" text-anchor="middle" dominant-baseline="central">3</text>
<text x="411" y="74.5" transform="rotate(50 411 74.5)" font-size="20" fill="#1a1716" text-anchor="middle" dominant-baseline="central">2</text>
<text x="800" y="73" transform="rotate(-15 800 73)" font-size="20" fill="#1a1716" text-anchor="middle" dominant-baseline="central">-0.5</text>
<text x="758.75" y="213.25" transform="rotate(-75 758.75 213.25)" font-size="20" fill="#1a1716" text-anchor="middle" dominant-baseline="central">-0.5</text>
<text x="470" y="298.25" transform="rotate(40 470 298.25)" font-size="20" fill="#1a1716" text-anchor="middle" dominant-baseline="central">0.5</text>
<circle cx="285" cy="15" r="6.9" fill="#000"/>
<circle cx="285" cy="97.5" r="6.9" fill="#000"/>
<circle cx="285" cy="179" r="6.9" fill="#000"/>
<circle cx="495.75" cy="42.5" r="6.9" fill="#000"/>
<circle cx="495.75" cy="124.5" r="6.9" fill="#000"/>
<circle cx="495.75" cy="206" r="6.9" fill="#000"/>
<circle cx="495.75" cy="291" r="6.9" fill="#000"/>
<circle cx="495.75" cy="374" r="6.9" fill="#000"/>
<circle cx="708" cy="64.5" r="6.9" fill="#000"/>
<circle cx="708" cy="148.25" r="6.9" fill="#000"/>
<circle cx="708" cy="231" r="6.9" fill="#000"/>
<circle cx="708" cy="317.2" r="6.9" fill="#000"/>
<circle cx="708" cy="400" r="6.9" fill="#000"/>
<circle cx="816" cy="21.5" r="6.9" fill="#000"/>
<circle cx="816" cy="102.75" r="6.9" fill="#000"/>
<circle cx="816" cy="185" r="6.9" fill="#000"/>
<g stroke="#2b2726" stroke-width="3.8" fill="none">
<path d="M117.6 5.6V628.8M919.6 5.6V628.8M115.69999999999999 15.0H921.5M115.69999999999999 618.8H921.5"/>
<path d="M232.2 5.6V15.0M232.2 618.8V628.8M346.7 5.6V15.0M346.7 618.8V628.8M461.3 5.6V15.0M461.3 618.8V628.8M575.9 5.6V15.0M575.9 618.8V628.8M690.5 5.6V15.0M690.5 618.8V628.8M805.0 5.6V15.0M805.0 618.8V628.8M107.4 48.2H117.6M919.6 48.2H929.2M107.4 129.7H117.6M919.6 129.7H929.2M107.4 211.2H117.6M919.6 211.2H929.2M107.4 292.7H117.6M919.6 292.7H929.2M107.4 374.3H117.6M919.6 374.3H929.2M107.4 455.8H117.6M919.6 455.8H929.2M107.4 537.3H117.6M919.6 537.3H929.2M107.4 618.8H117.6M919.6 618.8H929.2" stroke-width="3.6"/>
</g>
<g font-size="23" fill="#3e3a39">
<text x="96.5" y="56.6" text-anchor="end" letter-spacing="1.05">4000</text>
<text x="96.5" y="138.1" text-anchor="end" letter-spacing="1.05">5000</text>
<text x="96.5" y="219.6" text-anchor="end" letter-spacing="1.05">6000</text>
<text x="96.5" y="301.1" text-anchor="end" letter-spacing="1.05">7000</text>
<text x="96.5" y="382.7" text-anchor="end" letter-spacing="1.05">8000</text>
<text x="96.5" y="464.2" text-anchor="end" letter-spacing="1.05">9000</text>
<text x="96.5" y="545.7" text-anchor="end" letter-spacing="1.05">10000</text>
<text x="96.5" y="627.2" text-anchor="end" letter-spacing="1.05">11000</text>
<text x="118.2" y="662.3" text-anchor="middle" letter-spacing="0.65">10.5°N</text>
<text x="232.8" y="662.3" text-anchor="middle" letter-spacing="0.65">10.7°N</text>
<text x="347.3" y="662.3" text-anchor="middle" letter-spacing="0.65">10.9°N</text>
<text x="461.9" y="662.3" text-anchor="middle" letter-spacing="0.65">11.1°N</text>
<text x="576.5" y="662.3" text-anchor="middle" letter-spacing="0.65">11.3°N</text>
<text x="691.1" y="662.3" text-anchor="middle" letter-spacing="0.65">11.5°N</text>
<text x="805.6" y="662.3" text-anchor="middle" letter-spacing="0.65">11.7°N</text>
<text x="920.2" y="662.3" text-anchor="middle" letter-spacing="0.65">11.9°N</text>
</g>
<text x="25.6" y="316.8" transform="rotate(-90 25.6 316.8)" font-size="26" fill="#3e3a39" text-anchor="middle" letter-spacing="0.65">Depth (m)</text>
<rect x="940.3" y="53.00" width="25.700000000000045" height="23.86" fill="#851629"/>
<rect x="940.3" y="76.56" width="25.700000000000045" height="23.86" fill="#A01C30"/>
<rect x="940.3" y="100.12" width="25.700000000000045" height="23.86" fill="#BE2838"/>
<rect x="940.3" y="123.68" width="25.700000000000045" height="23.86" fill="#CB3F44"/>
<rect x="940.3" y="147.24" width="25.700000000000045" height="23.86" fill="#D85D4E"/>
<rect x="940.3" y="170.80" width="25.700000000000045" height="23.86" fill="#E07964"/>
<rect x="940.3" y="194.36" width="25.700000000000045" height="23.86" fill="#E8937A"/>
<rect x="940.3" y="217.92" width="25.700000000000045" height="23.86" fill="#EEA88E"/>
<rect x="940.3" y="241.48" width="25.700000000000045" height="23.86" fill="#F0BEA4"/>
<rect x="940.3" y="265.04" width="25.700000000000045" height="23.86" fill="#F5D8C6"/>
<rect x="940.3" y="288.60" width="25.700000000000045" height="23.86" fill="#F9E7DB"/>
<rect x="940.3" y="312.16" width="25.700000000000045" height="23.86" fill="#F9F3EE"/>
<rect x="940.3" y="335.72" width="25.700000000000045" height="23.86" fill="#EDF4F7"/>
<rect x="940.3" y="359.28" width="25.700000000000045" height="23.86" fill="#DFEFF5"/>
<rect x="940.3" y="382.84" width="25.700000000000045" height="23.86" fill="#CCE5F1"/>
<rect x="940.3" y="406.40" width="25.700000000000045" height="23.86" fill="#B3DAEA"/>
<rect x="940.3" y="429.96" width="25.700000000000045" height="23.86" fill="#9FCFE2"/>
<rect x="940.3" y="453.52" width="25.700000000000045" height="23.86" fill="#85BCDB"/>
<rect x="940.3" y="477.08" width="25.700000000000045" height="23.86" fill="#6DABD1"/>
<rect x="940.3" y="500.64" width="25.700000000000045" height="23.86" fill="#5A9BC9"/>
<rect x="940.3" y="524.20" width="25.700000000000045" height="23.86" fill="#4A86C0"/>
<rect x="940.3" y="547.76" width="25.700000000000045" height="23.86" fill="#3E72B8"/>
<rect x="940.3" y="571.32" width="25.700000000000045" height="23.86" fill="#33609F"/>
<rect x="940.3" y="594.88" width="25.700000000000045" height="23.86" fill="#2A4B80"/>
<rect x="940.3" y="53.0" width="25.700000000000045" height="565.4399999999999" fill="none" stroke="#2b2726" stroke-width="2"/>
<path d="M960 148.2H966.0M960 242.3H966.0M960 336.5H966.0M960 430.6H966.0M960 524.8H966.0" stroke="#2b2726" stroke-width="1.6"/>
<g font-size="17.5" fill="#3e3a39">
<text x="978.9" y="60.2">3</text>
<text x="978.9" y="154.4">2</text>
<text x="978.9" y="248.6">1</text>
<text x="978.9" y="342.8">0</text>
<text x="978.9" y="437.0">-1</text>
<text x="978.9" y="531.2">-2</text>
<text x="978.9" y="625.4">-3</text>
</g>
<text y="34" font-size="20.5" fill="#231815"><tspan x="923.2">(</tspan><tspan x="929.6">c</tspan><tspan x="939.9">m</tspan><tspan x="956.8">·</tspan><tspan x="964.6">s</tspan><tspan x="975.4" dy="-8.5" font-size="15.5">-</tspan><tspan x="980.7" font-size="15.5">1</tspan><tspan x="991.3" dy="8.5">)</tspan></text>
<text x="3.3" y="29.4" font-size="46.5" font-weight="bold" fill="#231815">b</text>
</g>
</svg></body></html>
